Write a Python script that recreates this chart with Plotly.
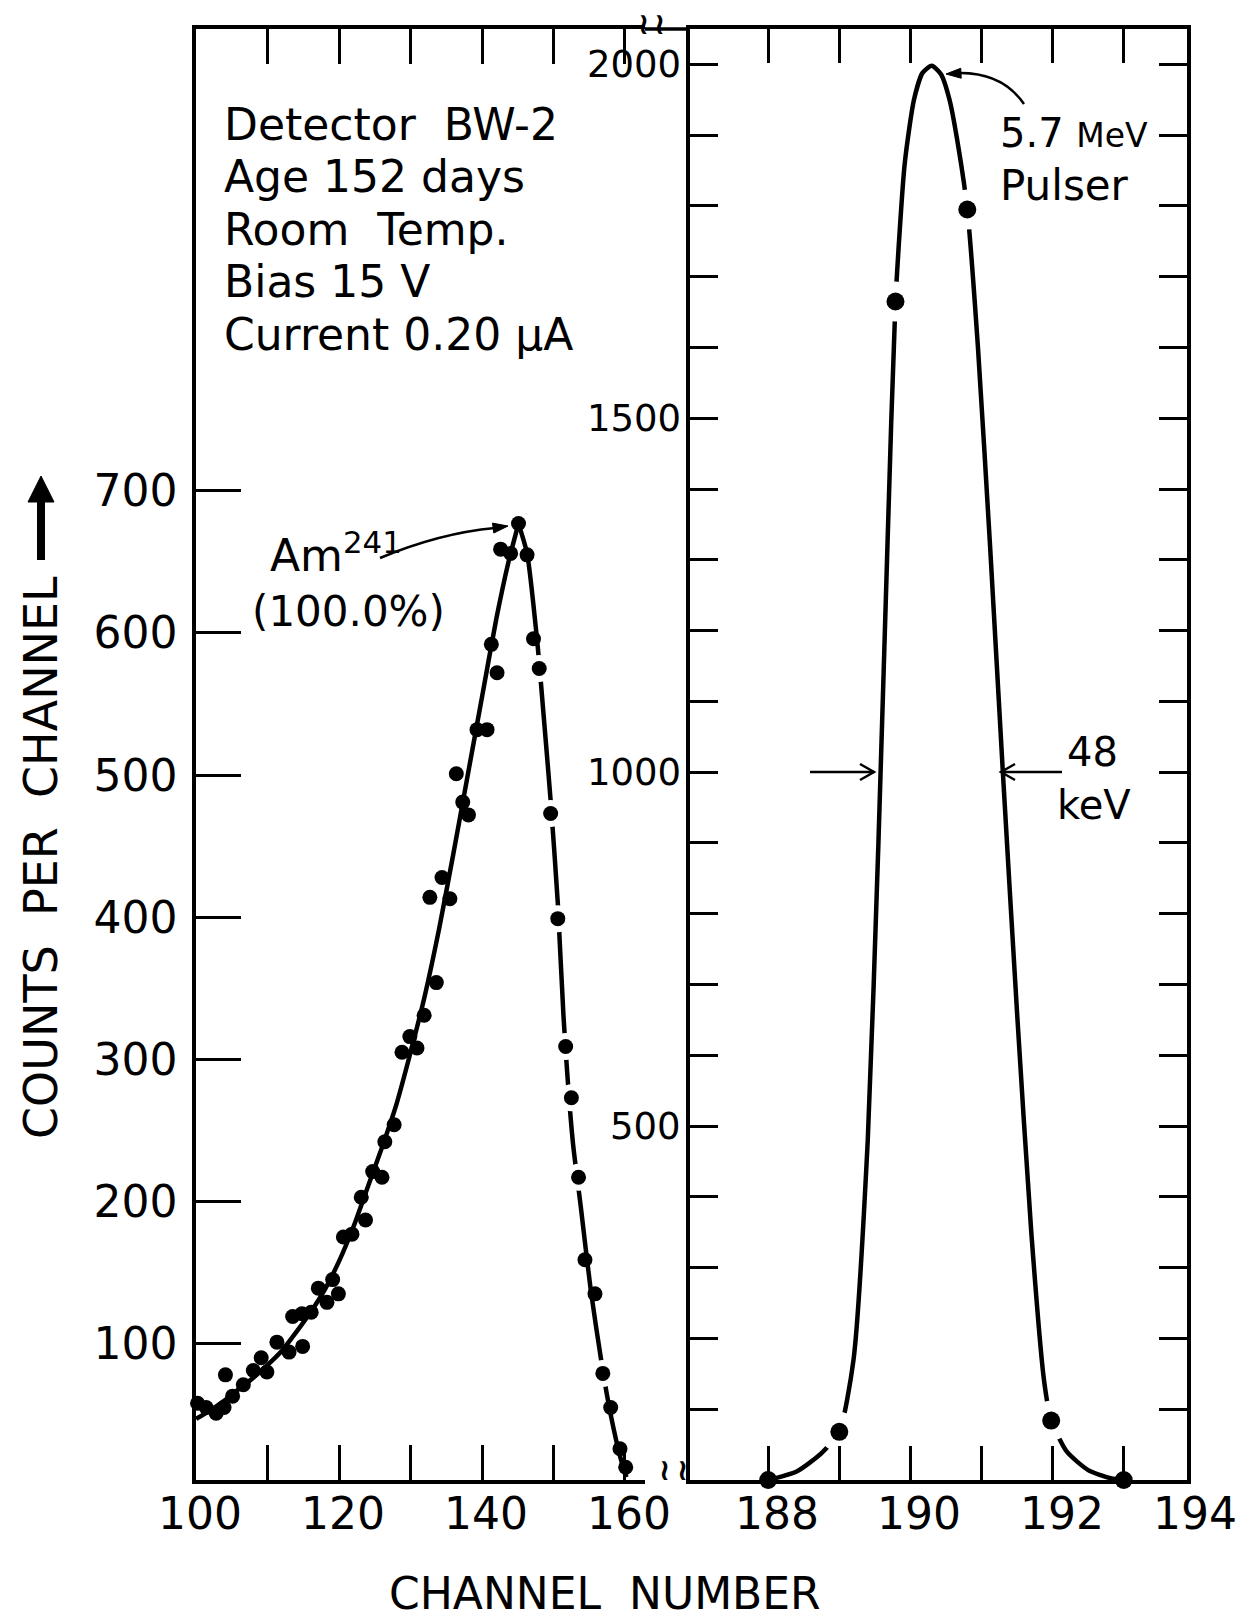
import math
import plotly.graph_objects as go

W, H = 1242, 1622

# ---------------- data ----------------
# Am-241 peak, rising side (channel, counts per channel)
rise_ch = [100.2, 101.4, 102.8, 103.9, 104.1, 105.1, 106.6, 108.0, 109.1, 109.9,
           111.3, 113.0, 113.5, 114.8, 114.9, 116.1, 117.1, 118.3, 119.1, 119.9,
           120.6, 121.8, 123.1, 123.7, 124.7, 126.0, 126.4, 127.7, 128.8, 129.9,
           130.9, 131.9, 132.7, 133.6, 134.4, 135.5, 136.4, 137.3, 138.1, 139.3,
           140.7, 141.3, 142.1, 142.6, 144.0, 145.1]
rise_counts = [58, 55, 51, 55, 78, 63, 71, 81, 90, 80,
               101, 94, 119, 121, 98, 122, 139, 129, 145, 135,
               175, 177, 203, 187, 221, 217, 242, 254, 305, 316,
               308, 331, 414, 354, 428, 413, 501, 481, 472, 532,
               532, 592, 572, 659, 656, 677]
# Am-241 peak, falling side
fall_ch = [146.3, 147.2, 148.0, 149.6, 150.6, 151.7, 152.5, 153.5, 154.4, 155.8,
           156.9, 158.0, 159.3, 160.1]
fall_counts = [655, 596, 575, 473, 399, 309, 273, 217, 159, 135, 79, 55, 26, 13]

# hand-drawn curve through the Am-241 peak
fit_rise_ch = [100, 102, 104, 106, 108, 110, 112, 114, 116, 118, 120, 122, 124, 126,
               128, 130, 132, 134, 136, 138, 140, 142, 143.7, 145.1]
fit_rise_counts = [47, 53, 60, 68, 76, 85, 95, 108, 122, 138, 158, 182, 210, 238,
                   268, 305, 345, 392, 445, 500, 555, 610, 650, 677]
fit_fall_ch = [145.1, 146.3, 147.8, 148.6, 149.6, 150.6, 151.4, 152.7, 153.8, 155.2,
               156.8, 158.0, 159.4, 160.2]
fit_fall_counts = [677, 656, 590, 543, 482, 410, 330, 242, 197, 138, 84, 50, 19, 6]

# 5.7 MeV pulser peak
pulser_ch = [188.0, 189.0, 189.79, 190.8, 191.98, 193.0]
pulser_counts = [0, 68, 1665, 1795, 84, 0]
pulser_fit_ch = [188.0, 188.4, 188.75, 189.0, 189.2, 189.4, 189.55, 189.68, 189.79,
                 189.92, 190.05, 190.17, 190.3, 190.43, 190.55, 190.68, 190.8, 190.95,
                 191.12, 191.3, 191.5, 191.7, 191.88, 191.98, 192.2, 192.5, 192.8, 193.0]
pulser_fit_counts = [0, 12, 38, 68, 170, 480, 900, 1330, 1665,
                     1860, 1950, 1988, 1998, 1986, 1950, 1880, 1795, 1600,
                     1320, 1000, 660, 350, 140, 84, 40, 14, 3, 0]

# ticks and tick labels
left_x_ticks = [100, 110, 120, 130, 140, 150, 160]
left_x_labels = [100, 120, 140, 160]
left_y_ticks = [100, 200, 300, 400, 500, 600, 700]
right_x_ticks = [188, 189, 190, 191, 192, 193]
right_x_labels = [188, 190, 192, 194]
right_y_ticks = list(range(100, 2001, 100))
right_y_labels = [500, 1000, 1500, 2000]

# which dots are drawn with a gap in the curve around them
fall_gap_idx = [2, 3, 4, 5, 6, 7, 10]
pulser_gap_idx = [1, 2, 3, 4]

# ---------------- figure ----------------
FONT = "DejaVu Sans"
fig = go.Figure()

curve = dict(color="black", width=4.5, shape="spline", smoothing=0.6)
for xs, ys, xa, ya in [(fit_rise_ch, fit_rise_counts, "x", "y"),
                       (fit_fall_ch, fit_fall_counts, "x", "y"),
                       (pulser_fit_ch, pulser_fit_counts, "x2", "y2")]:
    fig.add_trace(go.Scatter(x=xs, y=ys, mode="lines", line=curve, xaxis=xa, yaxis=ya,
                             hoverinfo="skip", cliponaxis=False))

# white halos to break the curve around some dots
fig.add_trace(go.Scatter(x=[fall_ch[i] for i in fall_gap_idx],
                         y=[fall_counts[i] for i in fall_gap_idx],
                         mode="markers", marker=dict(color="white", size=27),
                         xaxis="x", yaxis="y", hoverinfo="skip", cliponaxis=False))
fig.add_trace(go.Scatter(x=[pulser_ch[i] for i in pulser_gap_idx],
                         y=[pulser_counts[i] for i in pulser_gap_idx],
                         mode="markers", marker=dict(color="white", size=40),
                         xaxis="x2", yaxis="y2", hoverinfo="skip", cliponaxis=False))

# data dots
fig.add_trace(go.Scatter(x=rise_ch, y=rise_counts, mode="markers",
                         marker=dict(color="black", size=15), xaxis="x", yaxis="y",
                         cliponaxis=False))
fig.add_trace(go.Scatter(x=fall_ch, y=fall_counts, mode="markers",
                         marker=dict(color="black", size=15), xaxis="x", yaxis="y",
                         cliponaxis=False))
fig.add_trace(go.Scatter(x=pulser_ch, y=pulser_counts, mode="markers",
                         marker=dict(color="black", size=18), xaxis="x2", yaxis="y2",
                         cliponaxis=False))

ax_common = dict(showgrid=False, zeroline=False, showline=True, linewidth=3.5,
                 linecolor="black", ticks="inside", tickwidth=3, tickcolor="black",
                 automargin=False)

XD2 = [690, 1187]
XR2 = [186.9, 193.89]
ydom = [1 - 1480 / H, 1 - 29 / H]
fig.update_layout(
    width=W, height=H, margin=dict(l=0, r=0, t=0, b=0, pad=0, autoexpand=False),
    paper_bgcolor="white", plot_bgcolor="white", showlegend=False,
    font=dict(family=FONT, color="black"),
    xaxis=dict(domain=[196 / W, 645 / W], range=[99.98, 162.8], anchor="y",
               tickmode="array", tickvals=left_x_ticks, showticklabels=False,
               ticklen=35, mirror="ticks", **ax_common),
    yaxis=dict(domain=ydom, range=[4, 1025], anchor="x",
               tickmode="array", tickvals=left_y_ticks,
               ticktext=[str(v) for v in left_y_ticks],
               ticklen=45, tickfont=dict(size=44, family=FONT),
               ticklabelstandoff=6, **ax_common),
    xaxis2=dict(domain=[XD2[0] / W, XD2[1] / W], range=XR2, anchor="y2",
                tickmode="array", tickvals=right_x_ticks, showticklabels=False,
                ticklen=34, mirror="ticks", **ax_common),
    yaxis2=dict(domain=ydom, range=[0, 2050], anchor="x2",
                tickmode="array", tickvals=right_y_ticks, showticklabels=False,
                ticklen=28, mirror="ticks", **ax_common),
)


def P(xp, yp):
    return xp / W, 1 - yp / H


annots = []
shapes = []


def text(s, xp, yp, size, xanchor="left", yanchor="middle", angle=0):
    x, y = P(xp, yp)
    annots.append(dict(text=s, x=x, y=y, xref="paper", yref="paper",
                       xanchor=xanchor, yanchor=yanchor, showarrow=False,
                       textangle=angle, font=dict(size=size, family=FONT, color="black")))


# x tick labels
label_y = P(0, 1513)[1]
for v in left_x_labels:
    annots.append(dict(text=str(v), x=v, xref="x", y=label_y, yref="paper",
                       xanchor="center", yanchor="middle", xshift=4, showarrow=False,
                       font=dict(size=44, family=FONT, color="black")))
px_per_ch2 = (XD2[1] - XD2[0]) / (XR2[1] - XR2[0])
for v in right_x_labels:
    xp = XD2[0] + (v - XR2[0]) * px_per_ch2 + 9   # 194 lies just past the frame
    xp = min(xp, W - 47)                           # keep the last label inside the page
    annots.append(dict(text=str(v), x=xp / W, xref="paper", y=label_y, yref="paper",
                       xanchor="center", yanchor="middle", showarrow=False,
                       font=dict(size=44, family=FONT, color="black")))
# right-panel y tick labels
for v in right_y_labels:
    annots.append(dict(text=str(v), x=P(683, 0)[0], xref="paper", y=v, yref="y2",
                       xanchor="right", yanchor="middle", showarrow=False,
                       font=dict(size=37, family=FONT, color="black")))


def seg(a, b, width=2.5):
    x0, y0 = P(*a)
    x1, y1 = P(*b)
    shapes.append(dict(type="line", xref="paper", yref="paper", x0=x0, y0=y0,
                       x1=x1, y1=y1, line=dict(color="black", width=width)))


def head(tip, frm, length, half, filled=True, width=2.5):
    dx, dy = tip[0] - frm[0], tip[1] - frm[1]
    n = math.hypot(dx, dy)
    ux, uy = dx / n, dy / n
    bx, by = tip[0] - length * ux, tip[1] - length * uy
    p1 = (bx - half * uy, by + half * ux)
    p2 = (bx + half * uy, by - half * ux)
    pts = [P(*p1), P(*tip), P(*p2)]
    path = "M {} {} L {} {} L {} {}".format(pts[0][0], pts[0][1], pts[1][0], pts[1][1],
                                            pts[2][0], pts[2][1])
    if filled:
        shapes.append(dict(type="path", xref="paper", yref="paper", path=path + " Z",
                           fillcolor="black", line=dict(color="black", width=1)))
    else:
        shapes.append(dict(type="path", xref="paper", yref="paper", path=path,
                           line=dict(color="black", width=width)))


def qpath(a, c, b, width=2.5):
    ax_, ay_ = P(*a)
    cx, cy = P(*c)
    bx, by = P(*b)
    shapes.append(dict(type="path", xref="paper", yref="paper",
                       path=f"M {ax_} {ay_} Q {cx} {cy} {bx} {by}",
                       line=dict(color="black", width=width)))


# info block
for i, s in enumerate(["Detector  BW-2", "Age 152 days", "Room  Temp.",
                       "Bias 15 V", "Current 0.20 μA"]):
    text(s, 222, 124 + i * 52.5, 44)

# labels of peaks
text("Am<sup>241</sup>", 268, 552, 44)
text("(100.0%)", 348, 611, 42, xanchor="center")
text("5.7 <span style='font-size:33px'>MeV</span>", 998, 133, 40)
text("Pulser", 998, 185, 42)
text("48", 1092, 752, 40, xanchor="center")
text("keV", 1094, 805, 40, xanchor="center")

# FWHM arrows (open heads)
seg((810, 772), (874, 772))
head((874, 772), (810, 772), 14, 8, filled=False)
seg((1062, 772), (1001, 772))
head((1001, 772), (1062, 772), 14, 8, filled=False)

# curved label arrows
qpath((380, 558), (440, 533), (495, 528))
head((508, 526), (490, 528.5), 15, 5)
qpath((1024, 104), (1002, 72), (958, 73))
head((946, 74), (966, 73), 15, 5)

# axis titles
text("COUNTS  PER  CHANNEL", 41, 858, 46, xanchor="center", angle=-90)
seg((41, 560), (41, 498), width=8)
head((41, 476), (41, 560), 26, 13)
text("CHANNEL  NUMBER", 605, 1621, 44, xanchor="center", yanchor="bottom")

# axis-break marks and top border across the break
seg((645, 29), (690, 29), width=3.5)
for xp, yp in [(643, 24), (659, 24), (664, 1469), (682, 1469)]:
    text("<b>≀</b>", xp, yp, 30, xanchor="center")

fig.update_layout(annotations=annots, shapes=shapes)

fig.write_html("out.html")
